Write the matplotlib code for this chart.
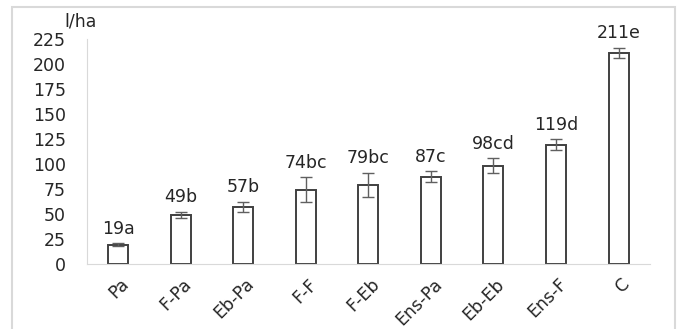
import numpy as np
import matplotlib.pyplot as plt
import matplotlib.transforms as mtransforms
from matplotlib.patches import Rectangle

plt.rcParams['font.family'] = ['DejaVu Sans']

categories = ['Pa', 'F-Pa', 'Eb-Pa', 'F-F', 'F-Eb', 'Ens-Pa', 'Eb-Eb', 'Ens-F', 'C']
values = [19, 49, 57, 74, 79, 87, 98, 119, 211]
errors = [1.5, 3, 5, 12.5, 12, 5.5, 7.5, 5.5, 5]
labels = ['19a', '49b', '57b', '74bc', '79bc', '87c', '98cd', '119d', '211e']
yticks = [0, 25, 50, 75, 100, 125, 150, 175, 200, 225]

fs = 12.5
txt = '#262626'

fig = plt.figure(figsize=(6.84, 3.29), dpi=100)
ax = fig.add_axes([0.127, 0.198, 0.823, 0.684])

# outer frame (no bottom edge visible in the original)
fig.patches.append(Rectangle((12/684, -0.05), (675-12)/684, 1.05 - 7/329,
                             transform=fig.transFigure, fill=False,
                             edgecolor='#d9d9d9', linewidth=1.5))

x = np.arange(len(categories))
ax.bar(x, values, width=0.32, color='white', edgecolor='#404040', linewidth=1.4, zorder=2)
ax.errorbar(x, values, yerr=errors, fmt='none', ecolor='#606060', elinewidth=1,
            capsize=4, capthick=1, zorder=3)

for xi, v, e, lab in zip(x, values, errors, labels):
    ax.annotate(lab, (xi, v + e), xytext=(0, 4), textcoords='offset points',
                ha='center', va='bottom', fontsize=fs, color=txt)

ax.set_xlim(-0.5, len(categories) - 0.5)
ax.set_ylim(0, 225)
ax.set_yticks(yticks)
ax.set_xticks(x)
ax.set_xticklabels(categories, rotation=45, ha='right', va='top', rotation_mode='anchor')
ax.tick_params(axis='both', length=0, labelsize=fs, colors=txt)
ax.tick_params(axis='y', pad=15)
ax.tick_params(axis='x', pad=8)
shift = mtransforms.ScaledTranslation(2/100, 0, fig.dpi_scale_trans)
for t in ax.get_xticklabels():
    t.set_transform(t.get_transform() + shift)

for s in ['top', 'right']:
    ax.spines[s].set_visible(False)
ax.spines['left'].set_color('#d9d9d9')
ax.spines['bottom'].set_color('#d9d9d9')

fig.text(64/684, 1 - 22/329, 'l/ha', fontsize=fs, color=txt, va='center')

plt.savefig('out.png', dpi=100)
